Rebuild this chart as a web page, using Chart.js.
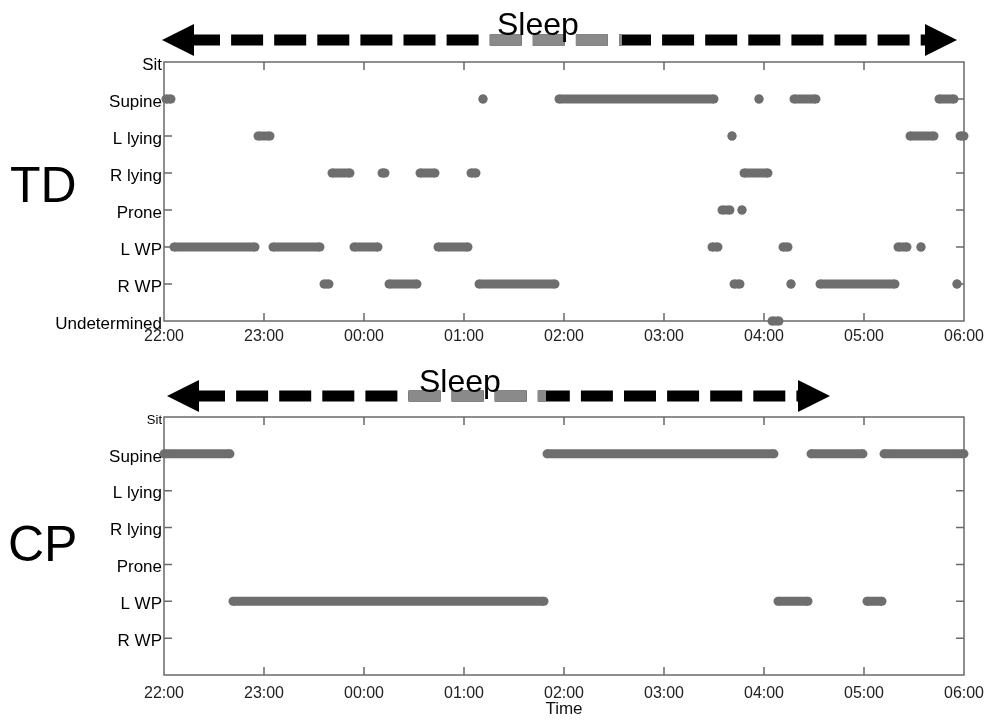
<!DOCTYPE html>
<html>
<head>
<meta charset="utf-8">
<script src="https://cdn.jsdelivr.net/npm/chart.js@4.4.1/dist/chart.umd.min.js"></script>
<style>
    body { margin: 0; background: #fff; }
    #wrap { position: relative; width: 988px; height: 720px; overflow: hidden; font-family: Arial, "Liberation Sans", sans-serif; }
    canvas { position: absolute; left: 0; }
    #tdChart { top: 0; }
    #cpChart { top: 350px; }
    .label { position: absolute; line-height: 1; color: #000; white-space: nowrap; }
    .group { font-size: 50px; }
    .sleep { font-size: 32px; }
</style>
</head>
<body>
<div id="wrap">
    <canvas id="tdChart" width="988" height="350"></canvas>
    <canvas id="cpChart" width="988" height="370"></canvas>
    <div class="label group" style="left: 10px; top: 160px;">TD</div>
    <div class="label group" style="left: 8px; top: 519px;">CP</div>
    <div class="label sleep" style="left: 497px; top: 8px;">Sleep</div>
    <div class="label sleep" style="left: 419px; top: 365px;">Sleep</div>
</div>
<script>
// y categories (top to bottom) and x tick labels
const postures = ['Sit', 'Supine', 'L lying', 'R lying', 'Prone', 'L WP', 'R WP', 'Undetermined'];
const posturesCP = ['Sit', 'Supine', 'L lying', 'R lying', 'Prone', 'L WP', 'R WP', ''];
const timeLabels = ['22:00', '23:00', '00:00', '01:00', '02:00', '03:00', '04:00', '05:00', '06:00'];

// posture bouts, [start, end] in hours after 22:00
const tdSupine = [[0.02, 0.07], [3.19, 3.19], [3.95, 5.5], [5.95, 5.95], [6.3, 6.52], [7.75, 7.9]];
const tdLLying = [[0.94, 1.06], [5.68, 5.68], [7.46, 7.7], [7.96, 8.0]];
const tdRLying = [[1.68, 1.86], [2.18, 2.21], [2.56, 2.71], [3.07, 3.12], [5.8, 6.04]];
const tdProne = [[5.58, 5.66], [5.78, 5.78]];
const tdLWP = [[0.1, 0.91], [1.09, 1.56], [1.9, 2.14], [2.74, 3.04], [5.48, 5.54], [6.19, 6.24], [7.34, 7.43], [7.57, 7.57]];
const tdRWP = [[1.6, 1.65], [2.25, 2.53], [3.15, 3.91], [5.7, 5.76], [6.27, 6.27], [6.56, 7.31], [7.93, 7.93]];
const tdUndetermined = [[6.08, 6.15]];

const cpSupine = [[0.0, 0.66], [3.83, 6.1], [6.47, 6.99], [7.2, 8.0]];
const cpLWP = [[0.69, 3.8], [6.14, 6.44], [7.03, 7.18]];

// sleep arrow span and the grey part of it, hours after 22:00
const tdSleep = [-0.02, 7.93];
const tdSleepGrey = [3.26, 4.58];
const cpSleep = [0.03, 6.66];
const cpSleepGrey = [2.45, 3.82];

Chart.defaults.font.family = 'Arial, "Liberation Sans", sans-serif';

const MARK = '#6e6e6e';

function boutPoints(bouts, level) {
    const pts = [];
    bouts.forEach(([s, e]) => {
        pts.push({ x: s, y: level }, { x: e, y: level }, { x: e, y: null });
    });
    return pts;
}

function boutDataset(bouts, level) {
    return {
        data: boutPoints(bouts, level),
        borderColor: MARK,
        backgroundColor: MARK,
        borderWidth: 9,
        pointRadius: 4.5,
        pointHoverRadius: 4.5,
        pointBorderWidth: 0,
        pointBackgroundColor: MARK,
        spanGaps: false,
        clip: false
    };
}

// box round the plot and inward tick marks
const framePlugin = {
    id: 'frame',
    beforeDatasetsDraw(chart) {
        const { ctx, chartArea: a, scales: { x, y } } = chart;
        ctx.save();
        ctx.strokeStyle = '#6a6a6a';
        ctx.lineWidth = 1.5;
        ctx.strokeRect(a.left, a.top, a.right - a.left, a.bottom - a.top);
        ctx.beginPath();
        x.ticks.forEach(t => {
            if (t.value <= x.min || t.value >= x.max) return;
            const px = x.getPixelForValue(t.value);
            ctx.moveTo(px, a.top); ctx.lineTo(px, a.top + 8);
            ctx.moveTo(px, a.bottom); ctx.lineTo(px, a.bottom - 8);
        });
        y.ticks.forEach(t => {
            if (t.value <= y.min || t.value >= y.max) return;
            const py = y.getPixelForValue(t.value);
            ctx.moveTo(a.left, py); ctx.lineTo(a.left + 8, py);
            ctx.moveTo(a.right, py); ctx.lineTo(a.right - 8, py);
        });
        ctx.stroke();
        ctx.restore();
    }
};

// dashed double arrow above the plot
const sleepArrowPlugin = {
    id: 'sleepArrow',
    afterDraw(chart, args, opts) {
        const { ctx, scales: { x } } = chart;
        const x0 = x.getPixelForValue(opts.span[0]);
        const x1 = x.getPixelForValue(opts.span[1]);
        const g0 = x.getPixelForValue(opts.grey[0]);
        const g1 = x.getPixelForValue(opts.grey[1]);
        const y = opts.y, head = 32, half = 16, thick = 11, dash = 32, period = 43.1;

        const drawDashes = (color) => {
            ctx.fillStyle = color;
            for (let d = x0 + 26 - period; d < x1 - head; d += period) {
                const a = Math.max(d, x0 + head - 1);
                const b = Math.min(d + dash, x1 - head + 1);
                if (b > a) ctx.fillRect(a, y - thick / 2, b - a, thick);
            }
        };

        ctx.save();
        drawDashes('#000');
        ctx.save();
        ctx.beginPath();
        ctx.rect(g0, 0, g1 - g0, chart.height);
        ctx.clip();
        drawDashes('#8a8a8a');
        ctx.restore();

        ctx.fillStyle = '#000';
        ctx.beginPath();
        ctx.moveTo(x0, y);
        ctx.lineTo(x0 + head, y - half);
        ctx.lineTo(x0 + head, y + half);
        ctx.closePath();
        ctx.fill();
        ctx.beginPath();
        ctx.moveTo(x1, y);
        ctx.lineTo(x1 - head, y - half);
        ctx.lineTo(x1 - head, y + half);
        ctx.closePath();
        ctx.fill();
        ctx.restore();
    }
};

function makeChart(id, cfg) {
    return new Chart(document.getElementById(id), {
        type: 'line',
        data: { datasets: cfg.datasets },
        options: {
            responsive: false,
            animation: false,
            events: [],
            layout: { padding: { top: cfg.top, right: 24, left: 0, bottom: 0 } },
            plugins: {
                legend: { display: false },
                tooltip: { enabled: false },
                sleepArrow: cfg.arrow
            },
            scales: {
                x: {
                    type: 'linear',
                    min: 0,
                    max: 8,
                    // grid hidden, tickLength only used as the gap under the plot
                    grid: { display: false, drawTicks: true, tickLength: cfg.xGap },
                    border: { display: false },
                    ticks: {
                        stepSize: 1,
                        autoSkip: false,
                        maxRotation: 0,
                        padding: 0,
                        color: '#222',
                        font: { size: 16 },
                        callback: v => timeLabels[v]
                    },
                    title: cfg.xTitle,
                    afterFit: s => { s.height = cfg.xHeight; }
                },
                y: {
                    type: 'linear',
                    min: 0,
                    max: 7,
                    reverse: true,
                    grid: { display: false, drawTicks: false },
                    border: { display: false },
                    ticks: {
                        stepSize: 1,
                        autoSkip: false,
                        padding: 2,
                        labelOffset: 3,
                        color: '#000',
                        font: cfg.yFont,
                        callback: v => cfg.labels[v]
                    },
                    afterFit: s => { s.width = 164; }
                }
            }
        },
        plugins: [framePlugin, sleepArrowPlugin]
    });
}

makeChart('tdChart', {
    top: 62,
    xGap: 6,
    xHeight: 29,
    xTitle: { display: false },
    labels: postures,
    yFont: { size: 17 },
    arrow: { span: tdSleep, grey: tdSleepGrey, y: 40 },
    datasets: [
        boutDataset(tdSupine, 1),
        boutDataset(tdLLying, 2),
        boutDataset(tdRLying, 3),
        boutDataset(tdProne, 4),
        boutDataset(tdLWP, 5),
        boutDataset(tdRWP, 6),
        boutDataset(tdUndetermined, 7)
    ]
});

makeChart('cpChart', {
    top: 67,
    xGap: 9,
    xHeight: 45,
    xTitle: { display: true, text: 'Time', color: '#111', font: { size: 17 }, padding: { top: 0, bottom: 0 } },
    labels: posturesCP,
    yFont: ctx => ({ size: ctx.tick && ctx.tick.value === 0 ? 13 : 17 }),
    arrow: { span: cpSleep, grey: cpSleepGrey, y: 46 },
    datasets: [
        boutDataset(cpSupine, 1),
        boutDataset(cpLWP, 5)
    ]
});
</script>
</body>
</html>
